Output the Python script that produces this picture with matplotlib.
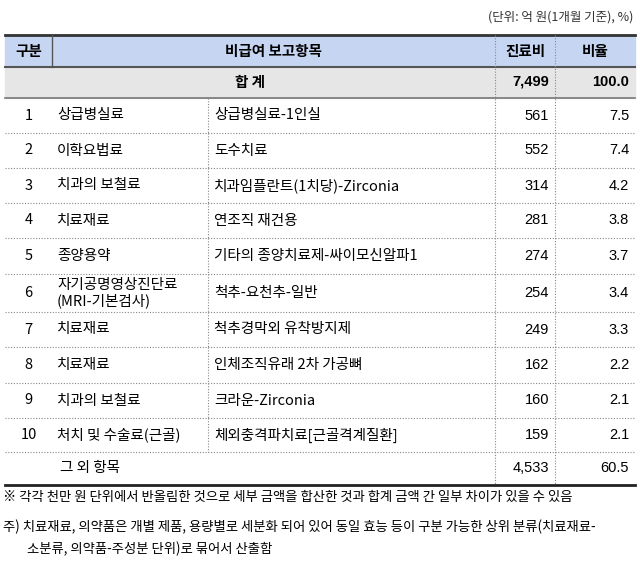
import matplotlib
matplotlib.use("Agg")
import matplotlib.pyplot as plt
from matplotlib.patches import Rectangle

plt.rcParams['font.family'] = ['Noto Sans CJK KR', 'DejaVu Sans']

ranks = ["1","2","3","4","5","6","7","8","9","10"]
categories = ["상급병실료","이학요법료","치과의 보철료","치료재료","종양용약",
              "자기공명영상진단료\n(MRI-기본검사)","치료재료","치료재료","치과의 보철료","처치 및 수술료(근골)"]
items = ["상급병실료-1인실","도수치료","치과임플란트(1치당)-Zirconia","연조직 재건용",
         "기타의 종양치료제-싸이모신알파1","척추-요천추-일반","척추경막외 유착방지제",
         "인체조직유래 2차 가공뼈","크라운-Zirconia","체외충격파치료[근골격계질환]"]
costs = [561,552,314,281,274,254,249,162,160,159]
ratios = [7.5,7.4,4.2,3.8,3.7,3.4,3.3,2.2,2.1,2.1]
total_cost, total_ratio = 7499, 100.0
other_cost, other_ratio = 4533, 60.5

fig = plt.figure(figsize=(6.4,5.63), dpi=100)
ax = fig.add_axes([0,0,1,1])
ax.set_xlim(0,640); ax.set_ylim(563,0); ax.axis('off')

x0,x1,x2,x3,x4,x5 = 5,52,208,495,555,635
fs = 10.5
ax.text(633,17,"(단위: 억 원(1개월 기준), %)",ha='right',va='center',fontsize=9,color='#333')

ax.add_patch(Rectangle((x0,35),x5-x0,32,color='#c6d6f2',zorder=0))
ax.add_patch(Rectangle((x0,67),x5-x0,31,color='#e6e6e6',zorder=0))
ax.plot([x0,x5],[35,35],color='#333',lw=2)
ax.plot([x0,x5],[67,67],color='#555',lw=1.5)
ax.plot([x0,x5],[98,98],color='#777',lw=1.2)
ax.plot([x1,x1],[35,67],color='#555',lw=1)
for xx in (x3,x4):
    ax.plot([xx,xx],[35,485],color='#888',lw=0.8,ls=(0,(1,1.5)))
hy=51
ax.text((x0+x1)/2,hy,"구분",ha='center',va='center',fontsize=fs,weight='bold')
ax.text((x1+x3)/2,hy,"비급여 보고항목",ha='center',va='center',fontsize=fs,weight='bold')
ax.text((x3+x4)/2,hy,"진료비",ha='center',va='center',fontsize=fs,weight='bold')
ax.text((x4+x5)/2,hy,"비율",ha='center',va='center',fontsize=fs,weight='bold')
ty=82
ax.text((x0+x3)/2,ty,"합 계",ha='center',va='center',fontsize=fs,weight='bold')
ax.text(x4-6,ty,f"{total_cost:,}",ha='right',va='center',fontsize=fs,weight='bold',family='Liberation Sans')
ax.text(x5-6,ty,f"{total_ratio:.1f}",ha='right',va='center',fontsize=fs,weight='bold',family='Liberation Sans')

tops = [98,133,168,203,238,274,312,347,383,418,452]
for i in range(10):
    t,b = tops[i],tops[i+1]
    cy=(t+b)/2
    ax.text((x0+x1)/2,cy,ranks[i],ha='center',va='center',fontsize=fs)
    ax.text(x1+5,cy,categories[i],ha='left',va='center',fontsize=fs,linespacing=1.1)
    ax.text(x2+6,cy,items[i],ha='left',va='center',fontsize=fs)
    ax.text(x4-6,cy,f"{costs[i]:,}",ha='right',va='center',fontsize=fs,family='Liberation Sans')
    ax.text(x5-6,cy,f"{ratios[i]:.1f}",ha='right',va='center',fontsize=fs,family='Liberation Sans')
    ax.plot([x0,x5],[b,b],color='#888',lw=0.8,ls=(0,(1,1.5)))
    ax.plot([x2,x2],[t,b],color='#888',lw=0.8,ls=(0,(1,1.5)))
oy=468
ax.text(60,oy,"그 외 항목",ha='left',va='center',fontsize=fs)
ax.text(x4-6,oy,f"{other_cost:,}",ha='right',va='center',fontsize=fs,family='Liberation Sans')
ax.text(x5-6,oy,f"{other_ratio:.1f}",ha='right',va='center',fontsize=fs,family='Liberation Sans')
ax.plot([x0,x5],[485,485],color='#222',lw=2)

nfs = 9.6
ax.text(3,497,"※ 각각 천만 원 단위에서 반올림한 것으로 세부 금액을 합산한 것과 합계 금액 간 일부 차이가 있을 수 있음",
        ha='left',va='center',fontsize=nfs)
ax.text(3,527,"주) 치료재료, 의약품은 개별 제품, 용량별로 세분화 되어 있어 동일 효능 등이 구분 가능한 상위 분류(치료재료-",
        ha='left',va='center',fontsize=nfs)
ax.text(27,549,"소분류, 의약품-주성분 단위)로 묶어서 산출함",ha='left',va='center',fontsize=nfs)

fig.savefig("out.png",dpi=100)
